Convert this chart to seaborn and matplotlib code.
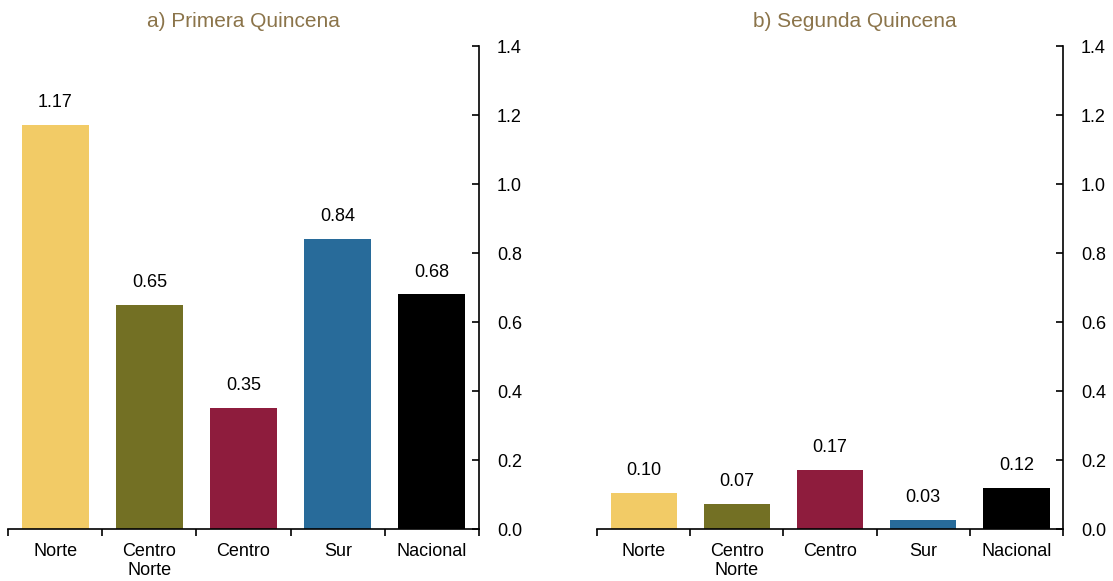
import numpy as np
import pandas as pd
import matplotlib.pyplot as plt
import seaborn as sns
from matplotlib.ticker import FixedLocator

# data
regiones = ['Norte', 'Centro\nNorte', 'Centro', 'Sur', 'Nacional']
primera = [1.17, 0.65, 0.35, 0.84, 0.68]
segunda = [0.104, 0.072, 0.17, 0.026, 0.12]
colores = ['#F2CB66', '#737024', '#8E1C3D', '#286B9A', '#000000']
titulos = ['a) Primera Quincena', 'b) Segunda Quincena']
yticks = [0.0, 0.2, 0.4, 0.6, 0.8, 1.0, 1.2, 1.4]

sns.set_style('white')
plt.rcParams['font.family'] = ['Liberation Sans', 'DejaVu Sans']
plt.rcParams['text.color'] = 'black'
plt.rcParams['xtick.color'] = 'black'
plt.rcParams['ytick.color'] = 'black'

fig = plt.figure(figsize=(11.13, 5.81), dpi=100)
ax1 = fig.add_axes([0.0072, 0.0895, 0.4232, 0.8313])
ax2 = fig.add_axes([0.5364, 0.0895, 0.4187, 0.8313])

title_color = '#8B744A'

for ax, vals, tit, tx in zip([ax1, ax2], [primera, segunda], titulos, [0.5, 0.554]):
    df = pd.DataFrame({'region': regiones, 'valor': vals})
    sns.barplot(data=df, x='region', y='valor', hue='region', palette=colores,
                width=0.71, saturation=1, legend=False, linewidth=0, ax=ax)
    for c in ax.containers:
        ax.bar_label(c, fmt='%.2f', padding=10, fontsize=13, color='black')

    ax.set_ylim(0, 1.4)
    ax.set_xlim(-0.5, 4.5)
    ax.set_xlabel('')
    ax.set_ylabel('')

    # y axis on the right, ticks pointing inward
    ax.yaxis.tick_right()
    ax.set_yticks(yticks)
    ax.set_yticklabels([f'{t:.1f}' for t in yticks])
    ax.tick_params(axis='y', direction='in', length=5, width=1.2, pad=13,
                   labelsize=13, colors='black')

    # category labels without ticks, ticks at the category borders
    ax.tick_params(axis='x', which='major', length=0, pad=10, labelsize=13,
                   labelcolor='black')
    for lab in ax.get_xticklabels():
        lab.set_linespacing(1.15)
    ax.xaxis.set_minor_locator(FixedLocator(np.arange(-0.5, 5, 1)))
    ax.tick_params(axis='x', which='minor', direction='out', length=5, width=1.2,
                   bottom=True)

    for s in ['left', 'top']:
        ax.spines[s].set_visible(False)
    for s in ['right', 'bottom']:
        ax.spines[s].set_visible(True)
        ax.spines[s].set_color('black')
        ax.spines[s].set_linewidth(1.2)

    ax.set_title(tit, color=title_color, fontsize=15, x=tx, pad=14)

fig.savefig('out.png', dpi=100)
